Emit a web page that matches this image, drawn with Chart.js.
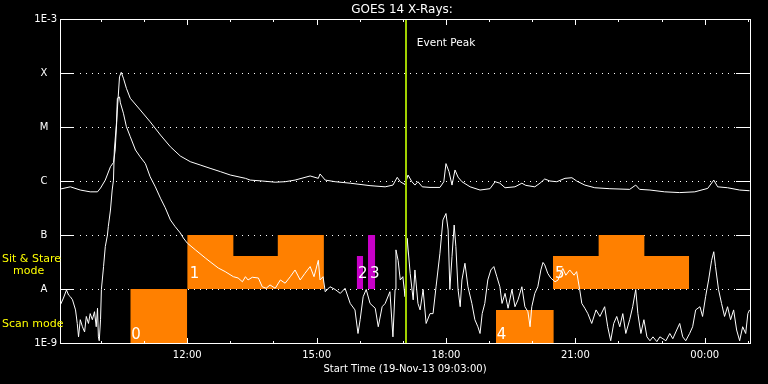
<!DOCTYPE html>
<html>
<head>
<meta charset="utf-8">
<script src="https://cdn.jsdelivr.net/npm/chart.js@4.4.1/dist/chart.umd.min.js"></script>
<style>
  html, body { margin: 0; padding: 0; background: #000; }
  #wrap { width: 768px; height: 384px; }
</style>
</head>
<body>
<div id="wrap"><canvas id="goes" width="768" height="384"></canvas></div>
<script>
// time in decimal hours of 19-Nov-13 (24+ = next day), flux in W/m^2
const startHour = 9.05;   // 09:03
const endHour = 25.05;

// 1-8 A channel (upper curve)
const longTimes = [
  9.06, 9.29, 9.52, 9.75, 9.92, 9.99, 10.10, 10.22, 10.29, 10.33,
  10.38, 10.43, 10.47, 10.52, 10.59, 10.68, 10.91, 11.14, 11.38, 11.61,
  11.84, 12.07, 12.30, 12.53, 12.77, 13.00, 13.35, 13.46, 13.74, 14.04,
  14.27, 14.50, 14.85, 15.04, 15.08, 15.20, 15.43, 15.78, 16.24, 16.59,
  16.77, 16.87, 16.94, 17.05, 17.12, 17.21, 17.28, 17.35, 17.45, 17.63,
  17.86, 17.95, 18.00, 18.07, 18.14, 18.21, 18.28, 18.37, 18.56, 18.79,
  19.02, 19.14, 19.25, 19.37, 19.60, 19.76, 19.85, 20.06, 20.18, 20.29,
  20.41, 20.57, 20.76, 20.92, 21.03, 21.22, 21.45, 21.80, 22.26, 22.40,
  22.49, 22.73, 23.07, 23.42, 23.77, 24.07, 24.21, 24.30, 24.53, 24.81,
  25.04
];
const longFlux = [
  7.1e-7, 7.8e-7, 6.8e-7, 6.3e-7, 6.3e-7, 7.4e-7, 1.04e-6, 1.84e-6, 2.2e-6, 3.75e-6,
  2.07e-5, 8.5e-5, 1.03e-4, 8.0e-5, 5.2e-5, 3.4e-5, 2.07e-5, 1.25e-5, 7.1e-6, 4.3e-6,
  2.9e-6, 2.28e-6, 1.98e-6, 1.72e-6, 1.49e-6, 1.29e-6, 1.12e-6, 1.04e-6, 1.0e-6, 9.5e-7,
  9.7e-7, 1.04e-6, 1.24e-6, 1.12e-6, 1.35e-6, 1.04e-6, 9.7e-7, 9.1e-7, 8.2e-7, 7.8e-7,
  8.4e-7, 1.17e-6, 9.7e-7, 8.6e-7, 1.29e-6, 9.7e-7, 8.4e-7, 9.7e-7, 7.8e-7, 7.6e-7,
  7.6e-7, 9.7e-7, 2.1e-6, 1.49e-6, 8.4e-7, 1.6e-6, 1.18e-6, 9.7e-7, 7.8e-7, 6.8e-7,
  7.2e-7, 9.7e-7, 9.1e-7, 7.5e-7, 7.8e-7, 9.1e-7, 8.3e-7, 7.8e-7, 9.1e-7, 1.09e-6,
  1.0e-6, 9.7e-7, 1.12e-6, 1.15e-6, 1.0e-6, 8.4e-7, 7.5e-7, 7.2e-7, 7.0e-7, 8.4e-7,
  7.0e-7, 6.8e-7, 6.3e-7, 6.1e-7, 6.3e-7, 7.3e-7, 1.04e-6, 7.8e-7, 7.5e-7, 6.8e-7,
  6.6e-7
];

// 0.5-4 A channel (lower curve)
const shortTimes = [
  9.06, 9.13, 9.20, 9.25, 9.29, 9.34, 9.41, 9.45, 9.48, 9.52,
  9.57, 9.62, 9.66, 9.71, 9.75, 9.80, 9.85, 9.89, 9.92, 9.94,
  9.96, 9.99, 10.01, 10.06, 10.10, 10.15, 10.17, 10.22, 10.26, 10.29,
  10.31, 10.36, 10.38, 10.43, 10.45, 10.52, 10.59, 10.68, 10.80, 10.91,
  11.03, 11.14, 11.26, 11.38, 11.49, 11.61, 11.72, 11.84, 11.91, 12.00,
  12.19, 12.42, 12.53, 12.72, 12.88, 13.07, 13.18, 13.28, 13.35, 13.41,
  13.51, 13.65, 13.74, 13.83, 13.92, 14.04, 14.16, 14.27, 14.39, 14.50,
  14.62, 14.73, 14.85, 14.94, 15.04, 15.08, 15.15, 15.20, 15.31, 15.43,
  15.55, 15.66, 15.78, 15.89, 15.96, 16.01, 16.08, 16.15, 16.24, 16.36,
  16.43, 16.52, 16.59, 16.70, 16.77, 16.82, 16.84, 16.89, 16.94, 17.00,
  17.05, 17.10, 17.17, 17.24, 17.28, 17.35, 17.40, 17.47, 17.54, 17.63,
  17.70, 17.77, 17.86, 17.93, 18.00, 18.05, 18.09, 18.14, 18.19, 18.23,
  18.28, 18.33, 18.37, 18.44, 18.51, 18.60, 18.67, 18.74, 18.79, 18.84,
  18.90, 18.97, 19.04, 19.11, 19.18, 19.25, 19.30, 19.37, 19.44, 19.53,
  19.60, 19.67, 19.76, 19.83, 19.90, 19.95, 19.99, 20.06, 20.13, 20.20,
  20.25, 20.29, 20.36, 20.43, 20.53, 20.60, 20.64, 20.71, 20.78, 20.87,
  20.97, 21.03, 21.10, 21.15, 21.22, 21.29, 21.38, 21.48, 21.57, 21.68,
  21.75, 21.82, 21.89, 21.96, 22.03, 22.10, 22.17, 22.26, 22.33, 22.40,
  22.45, 22.52, 22.59, 22.66, 22.73, 22.80, 22.89, 22.96, 23.03, 23.10,
  23.19, 23.26, 23.35, 23.42, 23.49, 23.56, 23.65, 23.72, 23.79, 23.89,
  23.95, 24.02, 24.09, 24.16, 24.21, 24.25, 24.32, 24.39, 24.46, 24.53,
  24.60, 24.67, 24.74, 24.81, 24.88, 24.95, 25.00, 25.04
];
const shortFlux = [
  5.1e-9, 6.8e-9, 9.6e-9, 7.7e-9, 7.2e-9, 6.3e-9, 4.1e-9, 2.3e-9, 1.3e-9, 2.7e-9,
  2.0e-9, 1.6e-9, 3.1e-9, 2.3e-9, 3.5e-9, 2.7e-9, 3.8e-9, 2.0e-9, 4.4e-9, 1.3e-9,
  1.1e-9, 2.7e-9, 9.8e-9, 2.6e-8, 6.1e-8, 1.0e-7, 1.43e-7, 2.9e-7, 6.8e-7, 1.04e-6,
  3.75e-6, 1.19e-5, 3.4e-5, 3.6e-5, 2.8e-5, 1.8e-5, 1.01e-5, 6.6e-6, 3.75e-6, 2.8e-6,
  2.1e-6, 1.2e-6, 7.8e-7, 4.8e-7, 3.2e-7, 1.9e-7, 1.43e-7, 1.09e-7, 8.8e-8, 7.1e-8,
  5.3e-8, 3.75e-8, 3.2e-8, 2.45e-8, 2.1e-8, 1.69e-8, 1.6e-8, 1.36e-8, 1.69e-8, 1.47e-8,
  1.65e-8, 1.6e-8, 1.1e-8, 1.03e-8, 1.19e-8, 1.03e-8, 1.47e-8, 1.28e-8, 1.69e-8, 2.25e-8,
  1.47e-8, 1.95e-8, 2.6e-8, 1.69e-8, 3.4e-8, 1.47e-8, 1.69e-8, 8.9e-9, 1.1e-8, 9.8e-9,
  8.3e-9, 1.03e-8, 5.4e-9, 4.1e-9, 1.5e-9, 2.7e-9, 7.2e-9, 9.8e-9, 5.4e-9, 4.4e-9,
  2.0e-9, 4.7e-9, 5.4e-9, 8.9e-9, 1.3e-9, 9.8e-9, 5.3e-8, 3.4e-8, 1.47e-8, 1.69e-8,
  7.2e-9, 8.7e-8, 1.95e-8, 6.3e-9, 2.25e-8, 5.4e-9, 4.1e-9, 9.8e-9, 2.3e-9, 3.5e-9,
  3.5e-9, 1.1e-8, 4.6e-8, 1.9e-7, 2.5e-7, 1.24e-7, 9.8e-9, 4.0e-8, 1.53e-7, 6.1e-8,
  9.8e-9, 4.7e-9, 1.47e-8, 3.0e-8, 1.1e-8, 5.4e-9, 2.7e-9, 2.0e-9, 1.5e-9, 3.5e-9,
  5.4e-9, 1.47e-8, 2.25e-8, 2.6e-8, 1.69e-8, 1.1e-8, 5.4e-9, 8.3e-9, 4.4e-9, 9.8e-9,
  4.7e-9, 6.3e-9, 1.1e-8, 4.7e-9, 3.8e-9, 2.0e-9, 4.7e-9, 8.3e-9, 1.1e-8, 2.25e-8,
  3.1e-8, 2.8e-8, 1.95e-8, 1.6e-8, 1.36e-8, 1.47e-8, 1.8e-8, 2.4e-8, 1.8e-8, 2.25e-8,
  1.8e-8, 2.1e-8, 9.8e-9, 5.4e-9, 4.4e-9, 3.5e-9, 2.3e-9, 4.1e-9, 3.1e-9, 4.7e-9,
  2.0e-9, 1.1e-9, 2.3e-9, 3.1e-9, 2.0e-9, 3.5e-9, 1.5e-9, 2.7e-9, 4.7e-9, 9.8e-9,
  3.5e-9, 1.5e-9, 2.7e-9, 1.3e-9, 1.1e-9, 1.3e-9, 1.06e-9, 1.3e-9, 1.2e-9, 1.1e-9,
  1.5e-9, 1.2e-9, 1.74e-9, 2.3e-9, 1.3e-9, 1.1e-9, 1.5e-9, 2.0e-9, 4.1e-9, 4.7e-9,
  3.1e-9, 7.2e-9, 1.47e-8, 3.4e-8, 4.9e-8, 2.6e-8, 9.8e-9, 5.4e-9, 3.1e-9, 4.7e-9,
  2.7e-9, 4.1e-9, 1.74e-9, 1.1e-9, 2.0e-9, 1.5e-9, 3.5e-9, 4.1e-9
];

// observing blocks (segments), bottom/top in flux units
const blockId    = [0, 1, 1, 1, 2, 3, 4, 5, 5, 5];
const blockStart = [10.68, 12.00, 13.07, 14.10, 15.93, 16.19, 19.16, 20.48, 21.54, 22.60];
const blockEnd   = [12.00, 13.07, 14.10, 15.17, 16.08, 16.36, 20.50, 21.54, 22.60, 23.64];
const blockLow   = [1e-9, 1e-8, 1e-8, 1e-8, 1e-8, 1e-8, 1e-9, 1e-8, 1e-8, 1e-8];
const blockHigh  = [1e-8, 1e-7, 4.1e-8, 1e-7, 4.1e-8, 1e-7, 4.1e-9, 4.1e-8, 1e-7, 4.1e-8];

const blockLabelText = ['0', '1', '2', '3', '4', '5'];
const blockLabelTime = [10.70, 12.06, 15.96, 16.24, 19.18, 20.53];
const blockLabelFlux = [1.2e-9, 1.6e-8, 1.6e-8, 1.6e-8, 1.2e-9, 1.6e-8];

const eventPeakHour = 17.07;

const yTickValues = [1e-9, 1e-8, 1e-7, 1e-6, 1e-5, 1e-4, 1e-3];
const yTickLabels = ['1E-9', 'A', 'B', 'C', 'M', 'X', '1E-3'];
const gridLevels = [1e-8, 1e-7, 1e-6, 1e-5, 1e-4];

const xMajorTicks = [12, 15, 18, 21, 24];
const xTickLabels = ['12:00', '15:00', '18:00', '21:00', '00:00'];
const xMinorTicks = [10, 11, 13, 14, 16, 17, 19, 20, 22, 23, 25];

const FONT = '"DejaVu Sans", sans-serif';
const magentaBlocks = [2, 3];

const toPoints = (xs, ys) => xs.map((x, i) => ({ x, y: ys[i] }));

// one stepped, filled outline per block so adjoining segments have no seams
const blockSets = [...new Set(blockId)].map((id) => {
    const idx = blockId.map((b, i) => (b === id ? i : -1)).filter((i) => i >= 0);
    const pts = idx.map((i) => ({ x: blockStart[i], y: blockHigh[i] }));
    const last = idx[idx.length - 1];
    pts.push({ x: blockEnd[last], y: blockHigh[last] });
    return {
        data: pts,
        stepped: 'before',
        fill: { value: blockLow[idx[0]] },
        backgroundColor: magentaBlocks.includes(id) ? '#c800c8' : '#ff8000',
        borderColor: 'transparent',
        borderWidth: 0,
        pointRadius: 0,
        order: 2
    };
});

const goesDecor = {
    id: 'goesDecor',
    beforeDatasetsDraw(chart) {
        const { ctx, chartArea: a, scales: { y } } = chart;
        ctx.save();
        ctx.fillStyle = '#fff';
        gridLevels.forEach((v) => {
            const py = Math.round(y.getPixelForValue(v));
            for (let px = a.left + 20; px < a.right - 14; px += 6) {
                ctx.fillRect(px, py, 1, 1);
            }
        });
        ctx.restore();
    },
    afterDatasetsDraw(chart) {
        const { ctx, chartArea: a, scales: { x, y } } = chart;
        ctx.save();
        ctx.fillStyle = '#fff';
        ctx.font = `15px ${FONT}`;
        ctx.textAlign = 'left';
        ctx.textBaseline = 'alphabetic';
        blockLabelText.forEach((t, i) => {
            ctx.fillText(t, x.getPixelForValue(blockLabelTime[i]), y.getPixelForValue(blockLabelFlux[i]));
        });
        const ex = Math.round(x.getPixelForValue(eventPeakHour));
        ctx.fillStyle = '#a0d000';
        ctx.fillRect(ex - 1, a.top, 2, a.bottom - a.top);
        ctx.restore();
    },
    afterDraw(chart) {
        const { ctx, chartArea: a, scales: { x, y } } = chart;
        const w = a.right - a.left;
        ctx.save();
        ctx.fillStyle = '#fff';
        // frame
        ctx.fillRect(a.left, a.top, w + 1, 1);
        ctx.fillRect(a.left, a.bottom, w + 1, 1);
        ctx.fillRect(a.left, a.top, 1, a.bottom - a.top);
        ctx.fillRect(a.right, a.top, 1, a.bottom - a.top);
        // time ticks, top and bottom
        const tick = (h, len) => {
            const px = Math.round(x.getPixelForValue(h));
            ctx.fillRect(px, a.top, 1, len);
            ctx.fillRect(px, a.bottom - len + 1, 1, len);
        };
        xMajorTicks.forEach((h) => tick(h, 6));
        xMinorTicks.forEach((h) => tick(h, 3));
        // decade ticks
        gridLevels.forEach((v) => {
            const py = Math.round(y.getPixelForValue(v));
            ctx.fillRect(a.left, py, 14, 1);
            ctx.fillRect(a.right - 14, py, 14, 1);
        });
        // y labels
        ctx.font = `10px ${FONT}`;
        ctx.textBaseline = 'middle';
        yTickValues.forEach((v, i) => {
            const py = y.getPixelForValue(v);
            const lab = yTickLabels[i];
            if (lab.length > 1) {
                ctx.textAlign = 'right';
                ctx.fillText(lab, 57, py);
            } else {
                ctx.textAlign = 'center';
                ctx.fillText(lab, 44, py);
            }
        });
        // x labels
        ctx.textAlign = 'center';
        xMajorTicks.forEach((h, i) => {
            ctx.fillText(xTickLabels[i], x.getPixelForValue(h), 355);
        });
        ctx.fillText('Start Time (19-Nov-13 09:03:00)', (a.left + a.right) / 2, 369);
        // title and event label
        ctx.font = `12px ${FONT}`;
        ctx.fillText('GOES 14 X-Rays:', 402, 10);
        ctx.font = `10.5px ${FONT}`;
        ctx.textAlign = 'left';
        ctx.fillText('Event Peak', x.getPixelForValue(eventPeakHour) + 11, 43);
        // mode labels
        ctx.fillStyle = '#ffff00';
        ctx.font = `11px ${FONT}`;
        ctx.fillText('Sit & Stare', 2, 259);
        ctx.fillText('mode', 13, 271);
        ctx.fillText('Scan mode', 2, 324);
        ctx.restore();
    }
};

new Chart(document.getElementById('goes'), {
    type: 'line',
    data: {
        datasets: [
            {
                data: toPoints(longTimes, longFlux),
                borderColor: '#fff',
                borderWidth: 1,
                pointRadius: 0,
                fill: false,
                tension: 0,
                order: 0
            },
            {
                data: toPoints(shortTimes, shortFlux),
                borderColor: '#fff',
                borderWidth: 1,
                pointRadius: 0,
                fill: false,
                tension: 0,
                order: 0
            },
            ...blockSets
        ]
    },
    options: {
        responsive: false,
        animation: false,
        events: [],
        layout: { padding: { left: 60, top: 19, right: 18, bottom: 41 } },
        plugins: {
            legend: { display: false },
            tooltip: { enabled: false }
        },
        scales: {
            x: { type: 'linear', min: startHour, max: endHour, display: false },
            y: { type: 'logarithmic', min: 1e-9, max: 1e-3, display: false }
        }
    },
    plugins: [goesDecor]
});
</script>
</body>
</html>
